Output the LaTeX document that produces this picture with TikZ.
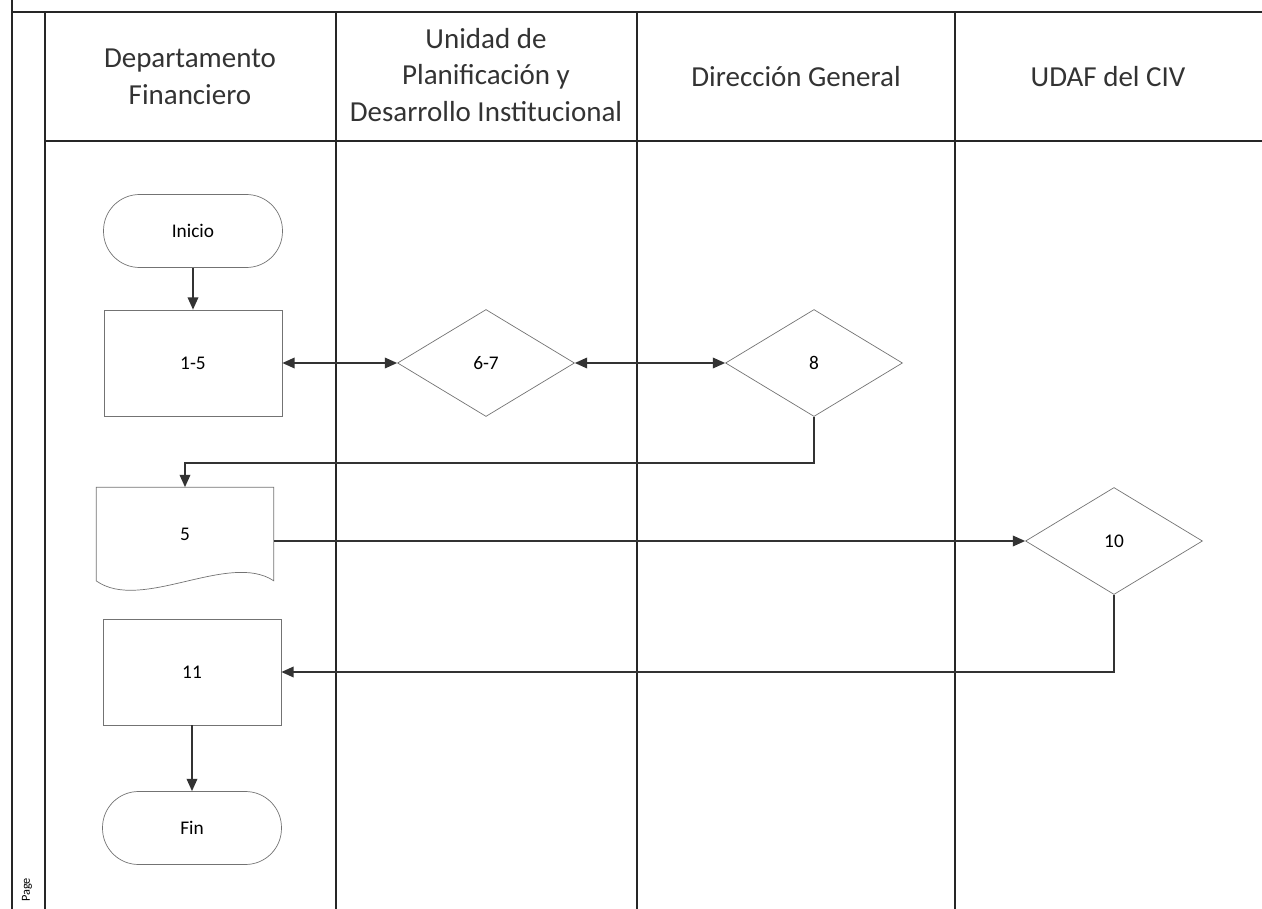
\documentclass[tikz,border=0pt]{standalone}
\usepackage{fontspec}
\setmainfont{Carlito}
\usetikzlibrary{positioning,shapes.geometric,arrows.meta}

\begin{document}
\begin{tikzpicture}[
  x=0.02cm, y=-0.02cm,
  frame/.style={line width=0.8pt, black!85},
  head/.style={font=\fontsize{16.5}{21}\selectfont, align=center, text=black!80},
  term/.style={draw=black!55, rectangle, rounded corners=0.72cm, minimum width=3.58cm,
    minimum height=1.46cm, font=\fontsize{11}{13}\selectfont},
  proc/.style={draw=black!55, minimum width=3.56cm, minimum height=2.12cm,
    font=\fontsize{11}{13}\selectfont},
  dec/.style={diamond, draw=black!55, minimum width=3.54cm, minimum height=2.14cm,
    inner sep=0pt, font=\fontsize{11}{13}\selectfont},
  docbox/.style={minimum width=3.54cm, minimum height=1.86cm,
    font=\fontsize{11}{13}\selectfont},
  flow/.style={line width=1pt, black!80},
  >={Triangle[length=7pt,width=6pt]}
]
\useasboundingbox (0,0) rectangle (1262,909);

% swimlane frame
\draw[frame] (12,0) -- (12,909);
\draw[frame] (12,12) -- (1262,12);
\draw[frame] (45,12) -- (45,909);
\draw[frame] (45,141) -- (1262,141);
\foreach \x in {336,637,955}
  \draw[frame] (\x,12) -- (\x,909);

% lane titles
\node[head] (hfin) at (190,77) {Departamento\\Financiero};
\node[head] (hupd) at (486,75) {Unidad de\\Planificación y\\Desarrollo Institucional};
\node[head] (hdg) at (796,77) {Dirección General};
\node[head] (hudaf) at (1108,77) {UDAF del CIV};

% steps
\node[term] (inicio) at (193,231) {Inicio};
\node[proc] (p15) at (193,363) {1-5};
\node[dec] (d67) at (486,363) {6-7};
\node[dec] (d8) at (814,363) {8};
\node[docbox] (doc5) at (185,534) {5};
\draw[black!55] (doc5.north west) -- (doc5.north east) -- (doc5.south east)
  .. controls +(-45,-30) and +(45,32) .. (doc5.south west) -- cycle;
\node[dec] (d10) at (1114,541) {10};
\node[proc] (p11) at (192,672) {11};
\node[term] (fin) at (192,828) {Fin};

% connectors
\draw[flow,->] (inicio) -- (p15);
\draw[flow,<->] (p15) -- (d67);
\draw[flow,<->] (d67) -- (d8);
\draw[flow,->] (d8.south) -- ++(0,46) -| (doc5.north);
\draw[flow,->] (doc5.east |- d10.west) -- (d10.west);
\draw[flow,->] (d10.south) |- (p11.east);
\draw[flow,->] (p11) -- (fin);

\node[rotate=90, font=\fontsize{7}{8}\selectfont] (pg) at (27,890) {Page};
\end{tikzpicture}
\end{document}
